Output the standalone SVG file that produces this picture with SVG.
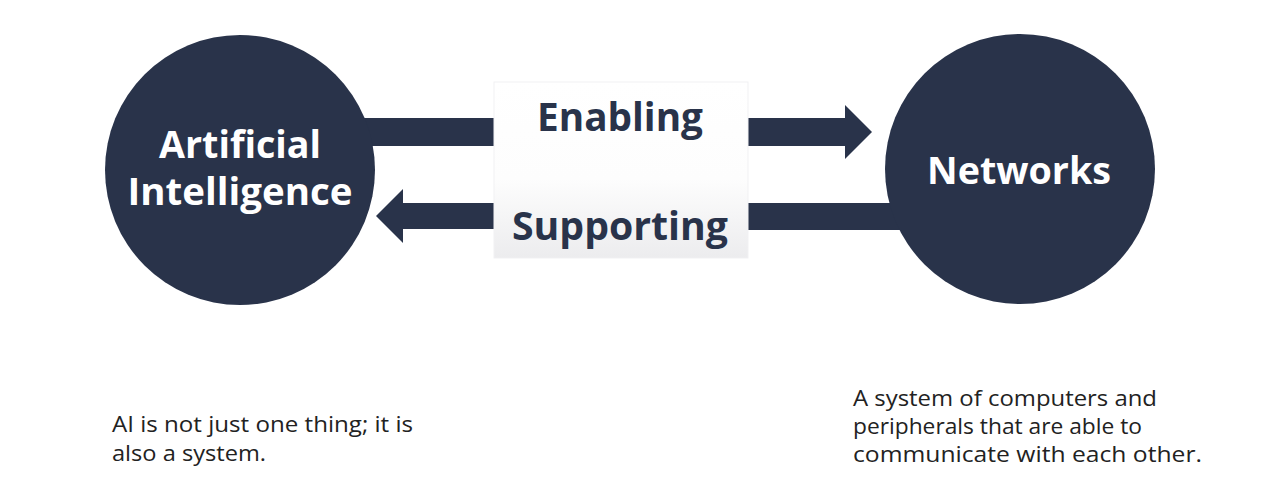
<svg xmlns="http://www.w3.org/2000/svg" width="1270" height="499" viewBox="0 0 1270 499">
  <style>
    .node { fill: #29334a; }
    .bar { fill: #29334a; }
    .ntext { font-family: "Open Sans", "Noto Sans", sans-serif; font-weight: bold; fill: #ffffff; text-anchor: middle; }
    .ltext { font-family: "Open Sans", "Noto Sans", sans-serif; font-weight: bold; fill: #29334a; text-anchor: middle; }
    .desc { font-family: "Open Sans", "Noto Sans", sans-serif; fill: #222222; font-size: 22px; }
    .desc2 { font-family: "Open Sans", "Noto Sans", sans-serif; fill: #222222; font-size: 21px; }
  </style>
  <defs>
    <linearGradient id="boxGrad" x1="0" y1="0" x2="0" y2="1">
      <stop offset="0" stop-color="#ffffff"/>
      <stop offset="0.55" stop-color="#fdfdfd"/>
      <stop offset="1" stop-color="#ececee"/>
    </linearGradient>
  </defs>
  <rect width="1270" height="499" fill="#ffffff"/>

  <g id="connectors">
    <rect class="bar" x="300" y="118" width="194" height="28"/>
    <polygon class="bar" points="748,118 845,118 845,105 872,132 845,159 845,146 748,146"/>
    <polygon class="bar" points="494,203 403,203 403,189 376,216 403,243 403,229 494,229"/>
    <rect class="bar" x="748" y="203" width="200" height="27"/>
  </g>

  <g id="node-ai">
    <circle class="node" cx="240" cy="170" r="135"/>
    <text class="ntext" x="240" y="158" font-size="37" textLength="162" lengthAdjust="spacingAndGlyphs">Artificial</text>
    <text class="ntext" x="240" y="205" font-size="37" textLength="225" lengthAdjust="spacingAndGlyphs">Intelligence</text>
  </g>

  <g id="node-networks">
    <circle class="node" cx="1020" cy="169" r="135"/>
    <text class="ntext" x="1019" y="184" font-size="38" textLength="184" lengthAdjust="spacingAndGlyphs">Networks</text>
  </g>

  <g id="node-labels">
    <rect x="494" y="82" width="254" height="176" fill="url(#boxGrad)" stroke="#f1f1f3" stroke-width="1"/>
    <text class="ltext" x="620" y="131" font-size="40" textLength="166" lengthAdjust="spacingAndGlyphs">Enabling</text>
    <text class="ltext" x="620" y="240" font-size="40" textLength="216" lengthAdjust="spacingAndGlyphs">Supporting</text>
  </g>

  <g id="note-ai">
    <text class="desc" x="112" y="432" textLength="301" lengthAdjust="spacingAndGlyphs">AI is not just one thing; it is</text>
    <text class="desc" x="112" y="461" textLength="154" lengthAdjust="spacingAndGlyphs">also a system.</text>
  </g>

  <g id="note-networks">
    <text class="desc2" x="853" y="406" textLength="304" lengthAdjust="spacingAndGlyphs">A system of computers and</text>
    <text class="desc2" x="853" y="434" textLength="289" lengthAdjust="spacingAndGlyphs">peripherals that are able to</text>
    <text class="desc2" x="853" y="462" textLength="349" lengthAdjust="spacingAndGlyphs">communicate with each other.</text>
  </g>
</svg>
